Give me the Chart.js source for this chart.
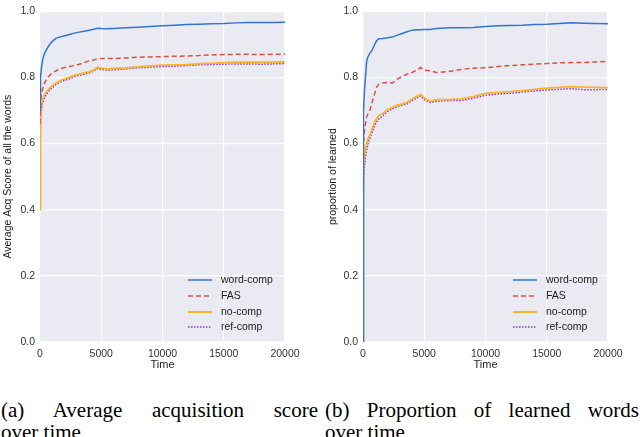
<!DOCTYPE html>
<html>
<head>
<meta charset="utf-8">
<script src="https://cdn.jsdelivr.net/npm/chart.js@4"></script>
<style>
  html, body { margin: 0; padding: 0; background: #fff; }
  #page { position: relative; width: 640px; height: 437px; overflow: hidden; }
  .box { position: absolute; top: 0; width: 320px; height: 380px; }
  .legend { position: absolute; font: 10.5px "Liberation Sans", Arial, sans-serif; color: #222; }
  .legend .row { position: absolute; left: 0; height: 12px; white-space: nowrap; }
  .legend svg { position: absolute; left: 0; top: 0; }
  .legend .txt { position: absolute; left: 33px; top: -1px; }
  .cap { position: absolute; font: 21px/22px "Liberation Serif", "Times New Roman", serif; color: #000;
         white-space: nowrap; }
  .cap.l1 { top: 399px; text-align: justify; text-align-last: justify; }
  .cap.l2 { top: 421px; }
</style>
</head>
<body>
<div id="page">
  <div class="box" style="left:0"><canvas id="chartA"></canvas></div>
  <div class="box" style="left:320px"><canvas id="chartB"></canvas></div>
  <div class="legend" id="legA" style="left:188px; top:274px"></div>
  <div class="legend" id="legB" style="left:513px; top:274px"></div>
  <div class="cap l1" style="left:1px; width:317px">(a) Average acquisition score</div>
  <div class="cap l2" style="left:1px">over time</div>
  <div class="cap l1" style="left:325px; width:314px">(b) Proportion of learned words</div>
  <div class="cap l2" style="left:325px">over time</div>
</div>
<script>
// sample times (same grid for both panels)
const times = [0, 20, 60, 120, 200, 300, 400, 550, 700, 900, 1100, 1300, 1600, 2000, 2400, 2800, 3200, 3600,
  4000, 4400, 4700, 5000, 5500, 6000, 7000, 8000, 9000, 10000, 11000, 12000, 13000, 14000, 15000, 16000,
  17000, 18000, 19000, 20000];

const seriesNames = ['word-comp', 'FAS', 'no-comp', 'ref-comp'];

// (a) average acquisition score
const scoreWordComp = [0.70, 0.76, 0.80, 0.83, 0.85, 0.865, 0.875, 0.885, 0.895, 0.905, 0.912, 0.918, 0.922, 0.926,
  0.930, 0.934, 0.937, 0.940, 0.943, 0.946, 0.949, 0.948, 0.947, 0.948, 0.950, 0.952, 0.954, 0.956, 0.958, 0.960,
  0.961, 0.962, 0.963, 0.965, 0.966, 0.966, 0.966, 0.967];
const scoreFAS = [0.66, 0.70, 0.73, 0.75, 0.765, 0.775, 0.785, 0.795, 0.803, 0.81, 0.815, 0.82, 0.826, 0.83,
  0.833, 0.836, 0.84, 0.845, 0.85, 0.853, 0.857, 0.857, 0.857, 0.857, 0.859, 0.861, 0.862, 0.863, 0.864, 0.865,
  0.866, 0.868, 0.869, 0.870, 0.870, 0.869, 0.870, 0.870];
const scoreNoComp = [0.40, 0.62, 0.68, 0.71, 0.73, 0.742, 0.75, 0.757, 0.765, 0.772, 0.778, 0.783, 0.789, 0.796,
  0.80, 0.806, 0.81, 0.814, 0.817, 0.823, 0.831, 0.828, 0.826, 0.827, 0.829, 0.832, 0.835, 0.837, 0.838, 0.839,
  0.842, 0.843, 0.845, 0.846, 0.846, 0.846, 0.846, 0.847];
const scoreRefComp = [0.40, 0.60, 0.67, 0.70, 0.72, 0.733, 0.742, 0.75, 0.758, 0.766, 0.773, 0.779, 0.785, 0.791,
  0.796, 0.802, 0.806, 0.81, 0.813, 0.82, 0.827, 0.824, 0.822, 0.823, 0.826, 0.829, 0.831, 0.833, 0.834, 0.836,
  0.838, 0.839, 0.840, 0.841, 0.841, 0.840, 0.841, 0.842];

// (b) proportion of learned words
const propWordComp = [0.0, 0.62, 0.70, 0.76, 0.80, 0.85, 0.862, 0.872, 0.88, 0.895, 0.91, 0.917, 0.918, 0.92,
  0.922, 0.928, 0.933, 0.938, 0.943, 0.944, 0.944, 0.945, 0.945, 0.948, 0.950, 0.950, 0.951, 0.954, 0.956, 0.957,
  0.958, 0.960, 0.961, 0.963, 0.965, 0.964, 0.963, 0.962];
const propFAS = [0.0, 0.55, 0.62, 0.64, 0.66, 0.68, 0.69, 0.70, 0.72, 0.745, 0.77, 0.78, 0.783, 0.785,
  0.783, 0.795, 0.803, 0.81, 0.815, 0.822, 0.83, 0.822, 0.82, 0.815, 0.818, 0.824, 0.828, 0.829, 0.833, 0.836,
  0.838, 0.840, 0.842, 0.844, 0.845, 0.845, 0.847, 0.849];
const propNoComp = [0.0, 0.48, 0.54, 0.56, 0.58, 0.60, 0.615, 0.625, 0.64, 0.66, 0.675, 0.685, 0.69, 0.703,
  0.71, 0.716, 0.72, 0.725, 0.735, 0.743, 0.748, 0.738, 0.728, 0.733, 0.733, 0.735, 0.742, 0.752, 0.755, 0.757,
  0.76, 0.764, 0.768, 0.770, 0.772, 0.771, 0.770, 0.769];
const propRefComp = [0.0, 0.45, 0.50, 0.53, 0.56, 0.58, 0.60, 0.615, 0.63, 0.65, 0.665, 0.675, 0.683, 0.697,
  0.705, 0.712, 0.716, 0.72, 0.73, 0.738, 0.744, 0.733, 0.724, 0.728, 0.73, 0.73, 0.737, 0.746, 0.75, 0.752,
  0.756, 0.759, 0.762, 0.764, 0.766, 0.763, 0.763, 0.764];

const styles = [
  { color: '#3274cf', dash: [] },
  { color: '#df4f47', dash: [5, 3] },
  { color: '#fbb428', dash: [] },
  { color: '#9a2fd0', dash: [1.5, 1.5] }
];

// fill plot area with the seaborn grey-blue
const bgPlugin = {
  id: 'bg',
  beforeDraw(c) {
    const a = c.chartArea, ctx = c.ctx;
    ctx.save();
    ctx.fillStyle = '#eaeaf2';
    ctx.fillRect(a.left, a.top, a.right - a.left, a.bottom - a.top);
    ctx.restore();
  }
};

function makeChart(id, lists, yTitle, yWidth, padRight, titlePad) {
  const datasets = lists.map((vals, i) => ({
    label: seriesNames[i],
    data: times.map((t, k) => ({ x: t, y: vals[k] })),
    borderColor: styles[i].color,
    borderDash: styles[i].dash,
    borderWidth: i === 2 ? 1.8 : 1.5,
    pointRadius: 0,
    tension: 0,
    fill: false
  }));
  const tickFont = { family: 'Liberation Sans', size: 10.5 };
  return new Chart(document.getElementById(id), {
    type: 'line',
    data: { datasets },
    plugins: [bgPlugin],
    options: {
      responsive: true,
      maintainAspectRatio: false,
      animation: false,
      layout: { padding: { top: 5, right: padRight, bottom: 8, left: 0 } },
      plugins: { legend: { display: false }, tooltip: { enabled: false } },
      scales: {
        x: {
          type: 'linear', min: 0, max: 20000,
          afterFit: s => { s.height = 30; },
          ticks: { stepSize: 5000, color: '#333', font: tickFont, padding: 6, maxRotation: 0,
                   callback: v => String(v) },
          grid: { color: '#ffffff', lineWidth: 1.2, drawTicks: false },
          border: { display: false },
          title: { display: true, text: 'Time', color: '#222', font: { family: 'Liberation Sans', size: 11 },
                   padding: { top: 0, bottom: 0 } }
        },
        y: {
          min: 0, max: 1,
          afterFit: s => { s.width = yWidth; },
          ticks: { stepSize: 0.2, color: '#333', font: tickFont, padding: 5,
                   callback: v => v.toFixed(1) },
          grid: { color: '#ffffff', lineWidth: 1.2, drawTicks: false },
          border: { display: false },
          title: { display: true, text: yTitle, color: '#222', font: { family: 'Liberation Sans', size: 10.5 },
                   padding: { top: titlePad, bottom: 0 } }
        }
      }
    }
  });
}

function makeLegend(id) {
  const el = document.getElementById(id);
  const rowY = [0, 15.5, 31.5, 47];
  const ns = 'http://www.w3.org/2000/svg';
  seriesNames.forEach((name, i) => {
    const row = document.createElement('div');
    row.className = 'row';
    row.style.top = rowY[i] + 'px';
    const svg = document.createElementNS(ns, 'svg');
    svg.setAttribute('width', '26');
    svg.setAttribute('height', '12');
    const ln = document.createElementNS(ns, 'line');
    ln.setAttribute('x1', '0'); ln.setAttribute('x2', '24');
    ln.setAttribute('y1', '6'); ln.setAttribute('y2', '6');
    ln.setAttribute('stroke', styles[i].color);
    ln.setAttribute('stroke-width', i === 2 ? '2' : '1.5');
    if (styles[i].dash.length) ln.setAttribute('stroke-dasharray', styles[i].dash.join(' '));
    svg.appendChild(ln);
    const tx = document.createElement('span');
    tx.className = 'txt';
    tx.textContent = name;
    row.appendChild(svg);
    row.appendChild(tx);
    el.appendChild(row);
  });
}

makeChart('chartA', [scoreWordComp, scoreFAS, scoreNoComp, scoreRefComp], 'Average Acq Score of all the words', 40, 35, 2);
makeChart('chartB', [propWordComp, propFAS, propNoComp, propRefComp], 'proportion of learned', 43, 32, 7);
makeLegend('legA');
makeLegend('legB');
</script>
</body>
</html>
